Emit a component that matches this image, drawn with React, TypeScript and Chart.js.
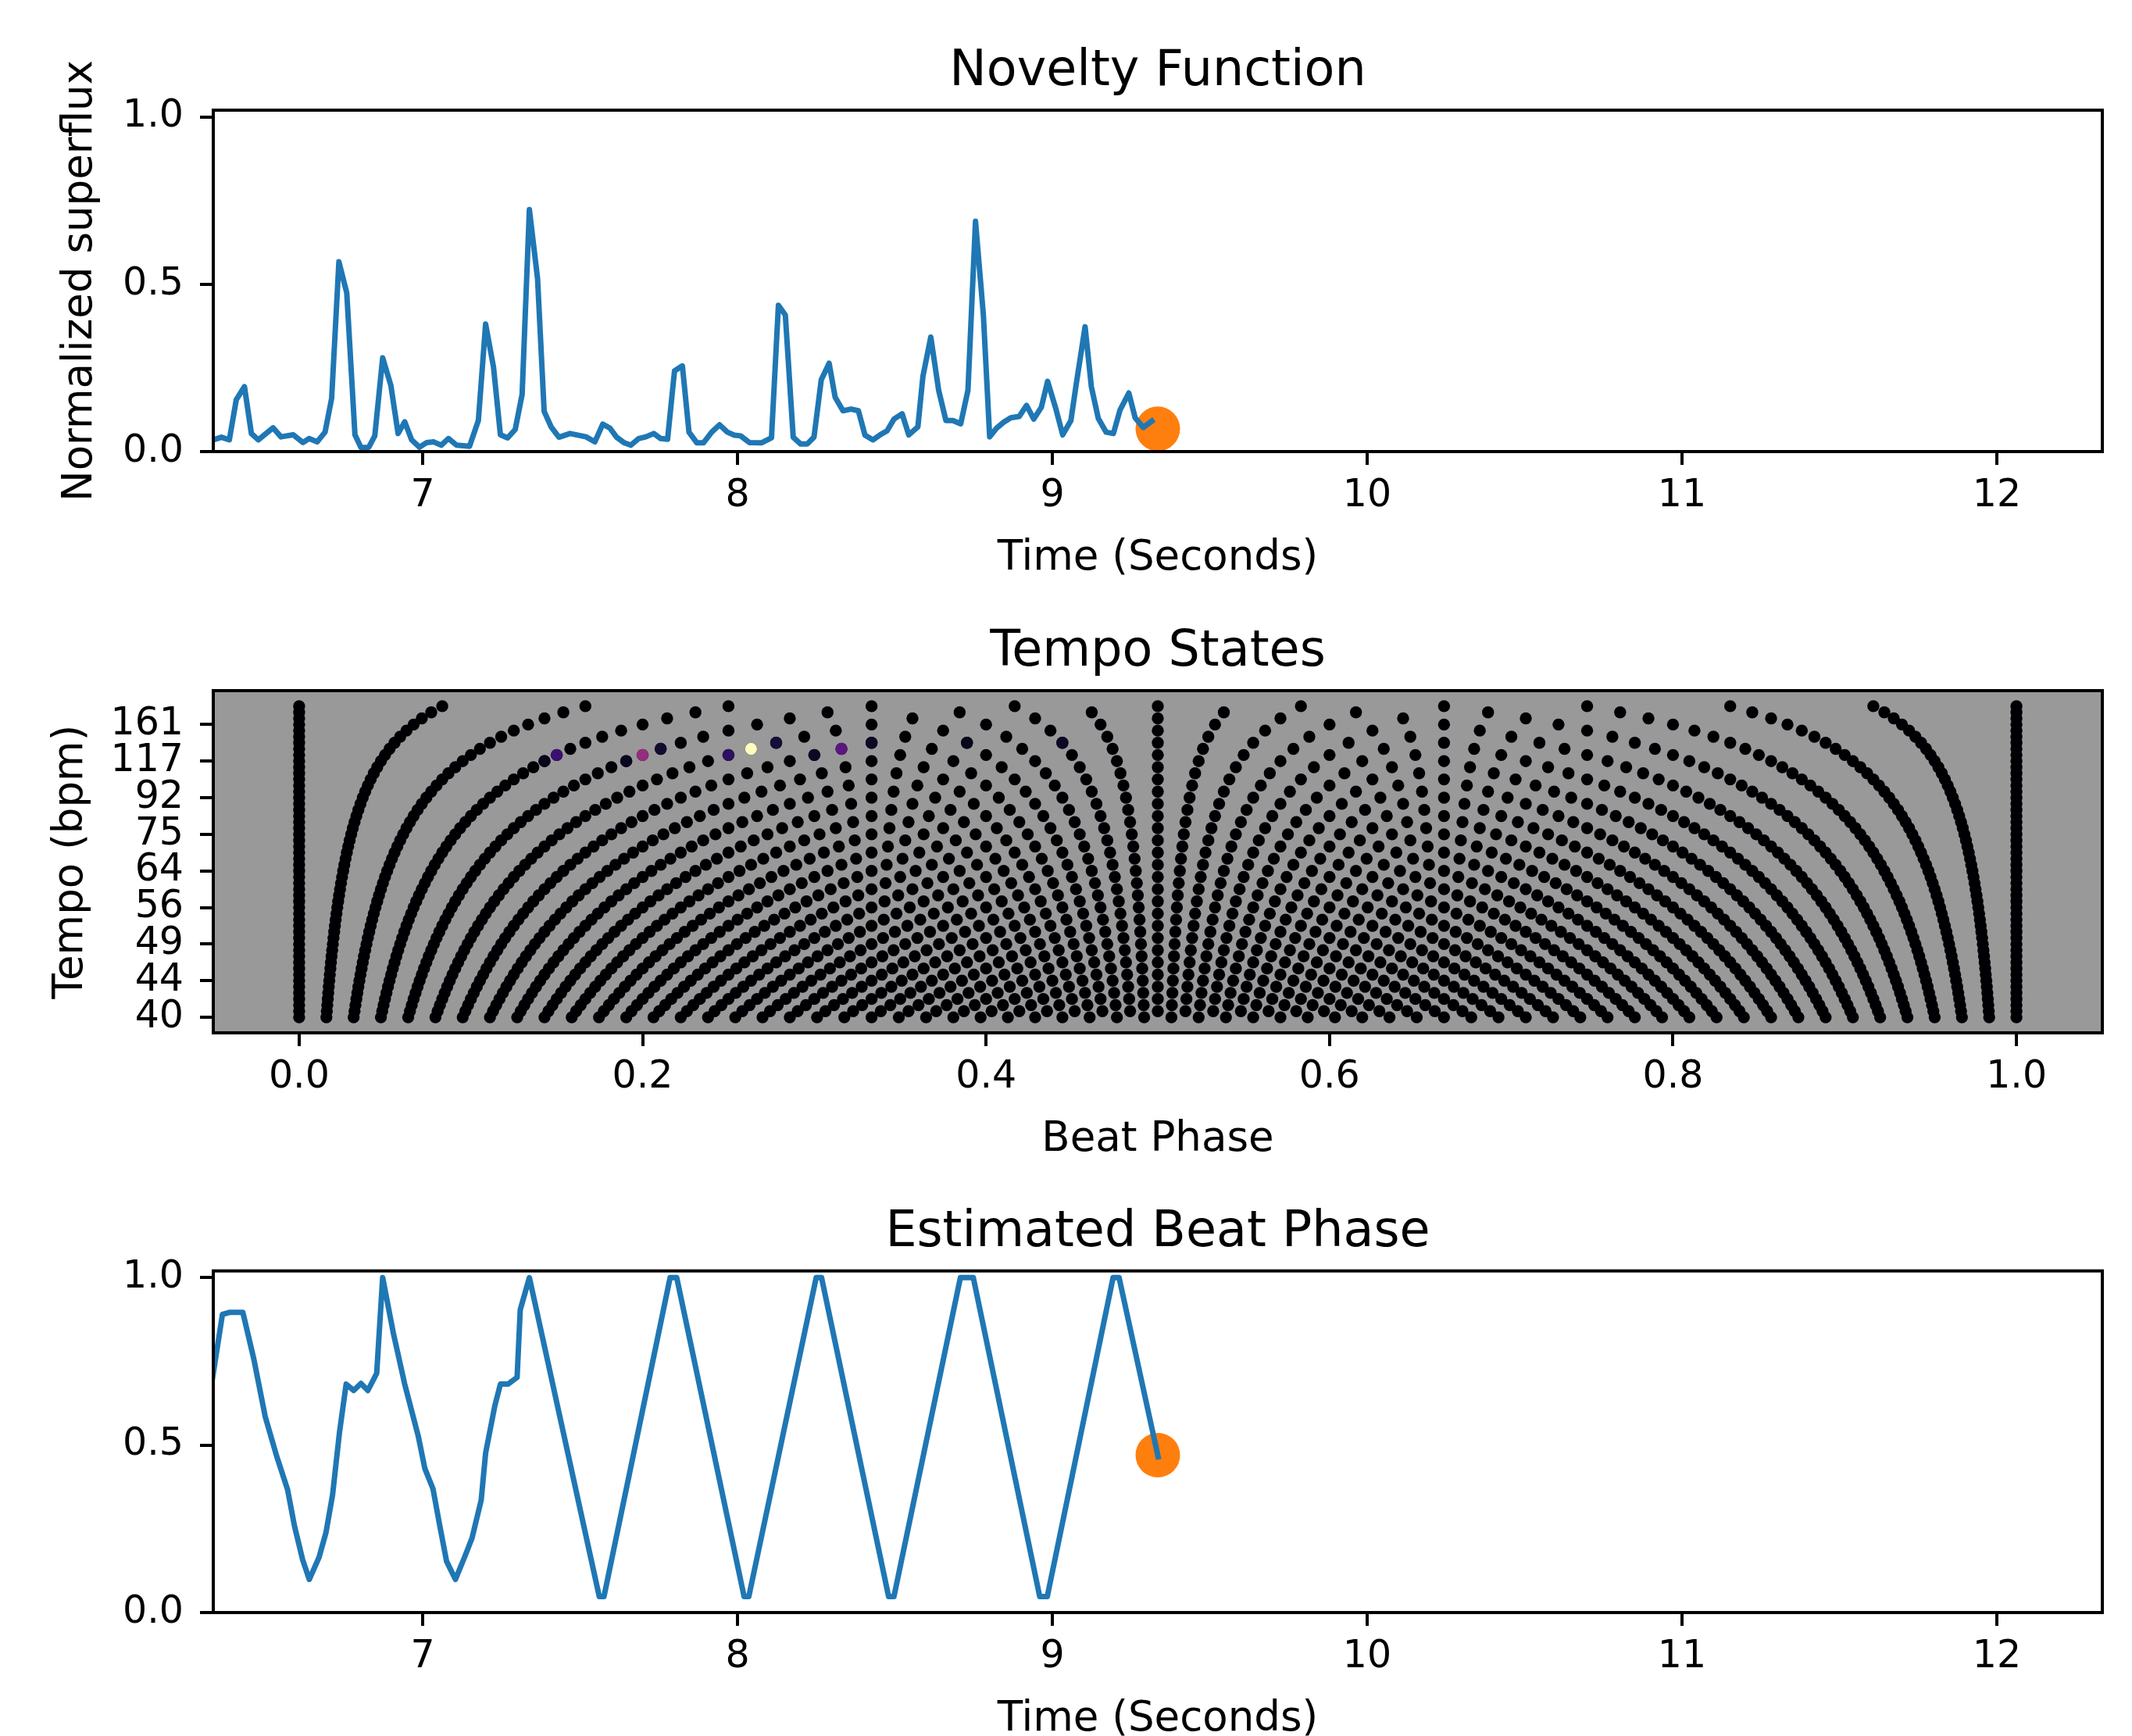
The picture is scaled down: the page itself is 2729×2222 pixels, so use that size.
import React, { useEffect, useRef } from 'react';
import { Chart, registerables } from 'chart.js';

Chart.register(...registerables);

const FONT = "'DejaVu Sans', 'Liberation Sans', sans-serif";

// ---------- Panel 1: novelty function ----------
const noveltyTimes = [
  6.335, 6.361, 6.386, 6.408, 6.434, 6.456, 6.478, 6.525, 6.55, 6.589,
  6.62, 6.639, 6.665, 6.69, 6.711, 6.734, 6.759, 6.785, 6.804, 6.829,
  6.848, 6.873, 6.899, 6.922, 6.943, 6.965, 6.99, 7.013, 7.035, 7.059,
  7.082, 7.108, 7.149, 7.177, 7.2, 7.225, 7.247, 7.27, 7.294, 7.316,
  7.339, 7.365, 7.386, 7.408, 7.433, 7.468, 7.519, 7.547, 7.572, 7.595,
  7.616, 7.639, 7.661, 7.686, 7.709, 7.734, 7.756, 7.778, 7.8, 7.825,
  7.846, 7.871, 7.892, 7.918, 7.943, 7.968, 7.99, 8.01, 8.038, 8.076,
  8.108, 8.13, 8.152, 8.177, 8.2, 8.222, 8.243, 8.266, 8.291, 8.31,
  8.335, 8.361, 8.384, 8.405, 8.43, 8.453, 8.475, 8.497, 8.523, 8.544,
  8.573, 8.589, 8.614, 8.639, 8.662, 8.684, 8.709, 8.732, 8.756, 8.781,
  8.801, 8.823, 8.846, 8.868, 8.895, 8.918, 8.941, 8.965, 8.985, 9.01,
  9.033, 9.059, 9.076, 9.104, 9.124, 9.146, 9.171, 9.194, 9.215, 9.243,
  9.263, 9.289, 9.316,
];
const noveltyValues = [
  0.035, 0.043, 0.035, 0.155, 0.194, 0.054, 0.035, 0.071, 0.044, 0.05,
  0.027, 0.039, 0.029, 0.058, 0.159, 0.567, 0.474, 0.05, 0.012, 0.013,
  0.047, 0.28, 0.198, 0.054, 0.089, 0.035, 0.013, 0.027, 0.029, 0.019,
  0.039, 0.019, 0.016, 0.093, 0.381, 0.253, 0.05, 0.041, 0.066, 0.171,
  0.723, 0.517, 0.12, 0.074, 0.043, 0.054, 0.044, 0.029, 0.082, 0.07,
  0.043, 0.027, 0.019, 0.039, 0.044, 0.054, 0.039, 0.037, 0.241, 0.256,
  0.058, 0.026, 0.026, 0.058, 0.08, 0.058, 0.049, 0.047, 0.027, 0.026,
  0.041, 0.437, 0.408, 0.043, 0.023, 0.023, 0.043, 0.214, 0.264, 0.163,
  0.122, 0.127, 0.122, 0.049, 0.035, 0.05, 0.062, 0.097, 0.113, 0.05,
  0.074, 0.225, 0.342, 0.183, 0.093, 0.093, 0.083, 0.183, 0.688, 0.408,
  0.044, 0.07, 0.088, 0.101, 0.105, 0.138, 0.097, 0.132, 0.21, 0.132,
  0.05, 0.093, 0.202, 0.373, 0.194, 0.099, 0.058, 0.054, 0.124, 0.175,
  0.101, 0.072, 0.091,
];
const currentTime = 9.335;
const noveltyCurrent = 0.068;

// ---------- Panel 3: estimated beat phase ----------
const phaseTimes = [
  6.331, 6.364, 6.386, 6.429, 6.464, 6.5, 6.536, 6.571, 6.593, 6.619,
  6.64, 6.671, 6.693, 6.714, 6.736, 6.757, 6.781, 6.804, 6.826, 6.854,
  6.873, 6.907, 6.943, 6.986, 7.007, 7.033, 7.053, 7.076, 7.104, 7.133,
  7.157, 7.186, 7.2, 7.229, 7.247, 7.271, 7.3, 7.31, 7.339, 7.561,
  7.576, 7.786, 7.807, 8.021, 8.036, 8.25, 8.267, 8.48, 8.497, 8.708,
  8.749, 8.96, 8.984, 9.193, 9.212, 9.336,
];
const phaseValues = [
  0.69, 0.89, 0.896, 0.896, 0.756, 0.585, 0.468, 0.367, 0.258, 0.157,
  0.099, 0.165, 0.239, 0.352, 0.539, 0.682, 0.663, 0.684, 0.663, 0.714,
  1.0, 0.834, 0.682, 0.527, 0.43, 0.369, 0.266, 0.153, 0.099, 0.165,
  0.223, 0.336, 0.476, 0.616, 0.682, 0.682, 0.702, 0.904, 1.0, 0.048,
  0.048, 1.0, 1.0, 0.048, 0.048, 1.0, 1.0, 0.048, 0.048, 1.0,
  1.0, 0.048, 0.048, 1.0, 1.0, 0.465,
];
const phaseCurrent = 0.47;

// ---------- Axis ticks ----------
const timeTicks = [7, 8, 9, 10, 11, 12];
const timeTickLabels = ['7', '8', '9', '10', '11', '12'];
const unitTicks = [0, 0.5, 1];
const unitTickLabels = ['0.0', '0.5', '1.0'];
const beatPhaseTicks = [0, 0.2, 0.4, 0.6, 0.8, 1.0];
const beatPhaseTickLabels = ['0.0', '0.2', '0.4', '0.6', '0.8', '1.0'];

// ---------- Panel 2: tempo state space ----------
// beat intervals (frames per beat) of the state space; each has `interval` positions over phase 0..1
const stateIntervals = [
  13, 14, 15, 16, 17, 18, 19, 20, 21, 22, 23, 24, 25, 26, 27, 28, 29, 30,
  31, 32, 33, 34, 35, 36, 37, 38, 39, 40, 41, 42, 43, 44, 45, 46, 47, 48,
  49, 50, 51, 52, 53, 54, 55, 56, 57, 58, 59, 60, 61, 62, 63, 64,
];
const tempoTickIntervals = [16, 22, 28, 34, 40, 46, 52, 58, 64];
const tempoTickLabels = ['161', '117', '92', '75', '64', '56', '49', '44', '40'];
// states with visible probability mass (interval, position index, colour)
const activeIntervals = [22, 22, 21, 21, 21, 21, 20, 20, 20, 19, 19, 19, 19];
const activePositions = [3, 4, 3, 4, 5, 6, 4, 5, 6, 5, 6, 7, 8];
const activeColors = [
  '#06051a', '#08071e', '#3b0f70', '#952c80', '#2d1160', '#0b0924',
  '#110c30', '#fcfdbf', '#5c167f', '#150e38', '#0b0924', '#07061b', '#0b0924',
];

const W = 2729;
const CHART_RIGHT_PAD = 38;
const Y_AXIS_WIDTH = 273;
const X_AXIS_HEIGHT = 163.5;
const LABEL_SIZE = 53;
const TITLE_SIZE = 63.5;

const framePlugin = {
  id: 'frame',
  afterDatasetsDraw(chart: any) {
    const { ctx, chartArea: a } = chart;
    ctx.save();
    ctx.strokeStyle = '#000';
    ctx.lineWidth = 4;
    ctx.strokeRect(a.left, a.top, a.right - a.left, a.bottom - a.top);
    ctx.restore();
  },
};

const grayPlugin = {
  id: 'grayBg',
  beforeDatasetsDraw(chart: any) {
    const { ctx, chartArea: a } = chart;
    ctx.save();
    ctx.fillStyle = '#999999';
    ctx.fillRect(a.left, a.top, a.right - a.left, a.bottom - a.top);
    ctx.restore();
  },
};

const gridOpts = {
  drawOnChartArea: false,
  drawTicks: true,
  tickLength: 17,
  tickWidth: 4,
  tickColor: '#000',
  color: '#000',
  lineWidth: 4,
};

function xAxis(min: number, max: number, ticks: number[], labels: string[], title: string) {
  return {
    type: 'linear',
    position: 'bottom',
    min,
    max,
    afterBuildTicks: (s: any) => {
      s.ticks = ticks.map((v) => ({ value: v }));
    },
    afterFit: (s: any) => {
      s.height = X_AXIS_HEIGHT;
    },
    ticks: {
      callback: (_v: any, i: number) => labels[i],
      font: { size: 49, family: FONT, lineHeight: 1 },
      color: '#000',
      padding: 16,
      maxRotation: 0,
      autoSkip: false,
    },
    grid: gridOpts,
    border: { display: false },
    title: {
      display: true,
      text: title,
      color: '#000',
      font: { size: LABEL_SIZE, family: FONT, lineHeight: 1 },
      padding: { top: 0, bottom: 0 },
    },
  };
}

function yAxis(
  min: number,
  max: number,
  ticks: number[],
  labels: string[],
  title: string | null,
  titleOffset: number,
  reverse = false,
) {
  return {
    type: 'linear',
    position: 'left',
    min,
    max,
    reverse,
    afterBuildTicks: (s: any) => {
      s.ticks = ticks.map((v) => ({ value: v }));
    },
    afterFit: (s: any) => {
      s.width = Y_AXIS_WIDTH;
    },
    ticks: {
      callback: (_v: any, i: number) => labels[i],
      font: { size: 49, family: FONT, lineHeight: 1 },
      color: '#000',
      padding: 21,
      autoSkip: false,
    },
    grid: gridOpts,
    border: { display: false },
    title: {
      display: !!title,
      text: title || '',
      color: '#000',
      font: { size: LABEL_SIZE, family: FONT, lineHeight: 1 },
      padding: { top: titleOffset - LABEL_SIZE / 2, bottom: 0 },
    },
  };
}

function titleOpts(text: string, center: number, chartTop: number) {
  return {
    display: true,
    text,
    color: '#000',
    fullSize: false,
    font: { size: TITLE_SIZE, weight: 'normal', family: FONT, lineHeight: 1 },
    padding: { top: center - TITLE_SIZE / 2, bottom: chartTop - center - TITLE_SIZE / 2 },
  };
}

function baseOptions(padBottom: number) {
  return {
    responsive: false,
    maintainAspectRatio: false,
    animation: false,
    devicePixelRatio: 1,
    events: [],
    layout: { padding: { left: 0, right: CHART_RIGHT_PAD, top: 0, bottom: padBottom } },
  };
}

function noveltyConfig(): any {
  return {
    type: 'scatter',
    data: {
      datasets: [
        {
          data: noveltyTimes.map((t, i) => ({ x: t, y: noveltyValues[i] })),
          showLine: true,
          borderColor: '#1f77b4',
          borderWidth: 7,
          pointRadius: 0,
          tension: 0,
          borderJoinStyle: 'round',
          borderCapStyle: 'square',
        },
        {
          data: [{ x: currentTime, y: noveltyCurrent }],
          pointRadius: 28.5,
          backgroundColor: '#ff7f0e',
          borderWidth: 0,
        },
      ],
    },
    options: {
      ...baseOptions(745 - 578 - X_AXIS_HEIGHT),
      plugins: {
        legend: { display: false },
        tooltip: { enabled: false },
        title: titleOpts('Novelty Function', 92.3, 141),
      },
      scales: {
        x: xAxis(currentTime - 3, currentTime + 3, timeTicks, timeTickLabels, 'Time (Seconds)'),
        y: yAxis(0, 1.02, unitTicks, unitTickLabels, 'Normalized superflux', 103),
      },
    },
    plugins: [framePlugin],
  };
}

function statesConfig(): any {
  const statePoints: { x: number; y: number }[] = [];
  stateIntervals.forEach((n) => {
    for (let i = 0; i < n; i++) statePoints.push({ x: i / (n - 1), y: n });
  });
  const activePoints = activeIntervals.map((n, k) => ({ x: activePositions[k] / (n - 1), y: n }));
  return {
    type: 'scatter',
    data: {
      datasets: [
        {
          data: activePoints,
          pointRadius: 7.7,
          backgroundColor: activeColors,
          borderWidth: 0,
        },
        {
          data: statePoints,
          pointRadius: 7.7,
          backgroundColor: '#000004',
          borderWidth: 0,
        },
      ],
    },
    options: {
      ...baseOptions(745 - 577 - X_AXIS_HEIGHT),
      plugins: {
        legend: { display: false },
        tooltip: { enabled: false },
        title: titleOpts('Tempo States', 90.3, 139),
      },
      scales: {
        x: xAxis(-0.05, 1.05, beatPhaseTicks, beatPhaseTickLabels, 'Beat Phase'),
        y: yAxis(10.45, 66.55, tempoTickIntervals, tempoTickLabels, 'Tempo (bpm)', 91, true),
      },
    },
    plugins: [grayPlugin, framePlugin],
  };
}

function phaseConfig(): any {
  return {
    type: 'scatter',
    data: {
      datasets: [
        {
          data: phaseTimes.map((t, i) => ({ x: t, y: phaseValues[i] })),
          showLine: true,
          borderColor: '#1f77b4',
          borderWidth: 7,
          pointRadius: 0,
          tension: 0,
          borderJoinStyle: 'round',
          borderCapStyle: 'square',
        },
        {
          data: [{ x: currentTime, y: phaseCurrent }],
          pointRadius: 28.5,
          backgroundColor: '#ff7f0e',
          borderWidth: 0,
        },
      ],
    },
    options: {
      ...baseOptions(742 - 574 - X_AXIS_HEIGHT),
      plugins: {
        legend: { display: false },
        tooltip: { enabled: false },
        title: titleOpts('Estimated Beat Phase', 88, 136.7),
      },
      scales: {
        x: xAxis(currentTime - 3, currentTime + 3, timeTicks, timeTickLabels, 'Time (Seconds)'),
        y: yAxis(0, 1.02, unitTicks, unitTickLabels, null, 103),
      },
    },
    plugins: [framePlugin],
  };
}

function ChartCanvas(props: { top: number; height: number; make: () => any }) {
  const ref = useRef<HTMLCanvasElement | null>(null);
  useEffect(() => {
    if (!ref.current) return;
    const chart = new Chart(ref.current, props.make());
    return () => chart.destroy();
  }, []);
  return (
    <canvas
      ref={ref}
      width={W}
      height={props.height}
      style={{ position: 'absolute', left: 0, top: props.top, width: W, height: props.height, display: 'block' }}
    />
  );
}

export default function App() {
  return (
    <div style={{ position: 'absolute', left: 0, top: 0, width: W, height: 2232, background: '#fff' }}>
      <ChartCanvas top={0} height={745} make={noveltyConfig} />
      <ChartCanvas top={745} height={745} make={statesConfig} />
      <ChartCanvas top={1490} height={742} make={phaseConfig} />
    </div>
  );
}
